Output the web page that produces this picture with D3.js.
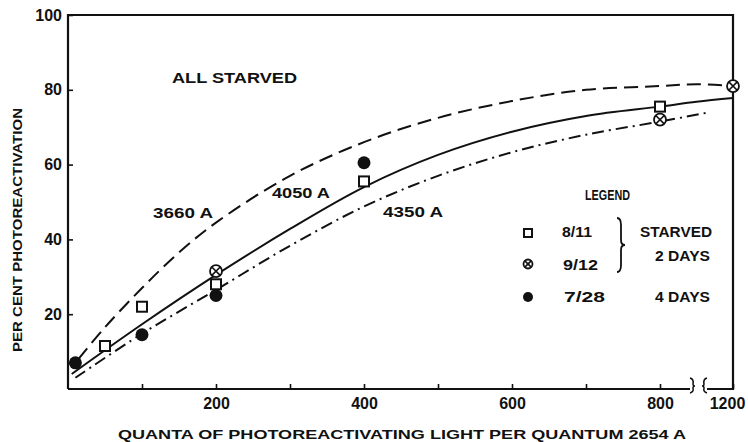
<!DOCTYPE html>
<html>
<head>
<meta charset="utf-8">
<script src="https://cdn.jsdelivr.net/npm/d3@7"></script>
<style>
  body { margin: 0; background: #fff; }
  svg text { font-family: "Liberation Sans", Arial, sans-serif; fill: #111; }
</style>
</head>
<body>
<svg id="chart" width="748" height="442"></svg>
<script>
// x values are quanta per quantum, y values are per cent photoreactivation
const xTicks = [100, 200, 300, 400, 500, 600, 700, 800, 1200]
const xTickLabels = {200: "200", 400: "400", 600: "600", 800: "800", 1200: "1200"}
const yTicks = [20, 40, 60, 80, 100]

// curves, one per wavelength
const curve3660 = [[14, 8], [50, 16.5], [100, 27], [150, 36.5], [200, 44.5], [300, 57], [400, 66], [500, 72.5], [600, 77], [700, 80], [800, 81], [1000, 81.5], [1200, 81]]
const curve4050 = [[5, 4], [100, 17.3], [200, 30.5], [300, 42.8], [400, 54], [500, 62.6], [600, 68.8], [700, 73], [800, 75.5], [1000, 76.8], [1200, 77.8]]
const curve4350 = [[10, 3], [100, 14.8], [200, 26.5], [300, 38.3], [400, 48.8], [500, 57], [600, 63.3], [700, 68], [800, 71.5], [1050, 73.8]]

// experiments
const starved811 = [[50, 11.5], [100, 22], [200, 28], [400, 55.5], [800, 75.5]]
const starved912 = [[200, 31.5], [800, 72], [1200, 81]]
const starved728 = [[10, 7], [100, 14.5], [200, 25], [400, 60.5]]

const svg = d3.select("#chart")

const x = d3.scaleLinear().domain([0, 800, 1200]).range([68, 660, 733])
const y = d3.scaleLinear().domain([0, 100]).range([389, 15])

// frame: left, top, right, bottom with a break before 1200
const frame = svg.append("g").attr("stroke", "#111").attr("stroke-width", 2.2).attr("fill", "none")
frame.append("path").attr("d", `M${x(0)},${y(0)}V${y(100)}H${x(1200)}V${y(0)}H707`)
frame.append("path").attr("d", `M${x(0)},${y(0)}H690`)
frame.append("path").attr("stroke-width", 1.5)
  .attr("d", "M690,378Q694,379 693,384Q693,386 695,386Q693,386 693,388Q694,392 690,393")
frame.append("path").attr("stroke-width", 1.5)
  .attr("d", "M707,378Q703,379 704,384Q704,386 702,386Q704,386 704,388Q703,392 707,393")

const xAxis = d3.axisBottom(x)
  .tickValues(xTicks)
  .tickSizeInner(-5)
  .tickSizeOuter(0)
  .tickPadding(9)
  .tickFormat(d => xTickLabels[d] || "")

const gx = svg.append("g").attr("transform", `translate(0,${y(0)})`).call(xAxis)
gx.select(".domain").remove()
gx.selectAll(".tick line").attr("stroke", "#111").attr("stroke-width", 1.6)
gx.selectAll(".tick text").attr("font-size", 16).attr("font-weight", "bold").attr("fill", "#111")
gx.selectAll(".tick").filter(d => d === 1200).select("text").attr("dx", -6)

const yAxis = d3.axisLeft(y)
  .tickValues(yTicks)
  .tickSizeInner(-5)
  .tickSizeOuter(0)
  .tickPadding(6)

const gy = svg.append("g").attr("transform", `translate(${x(0)},0)`).call(yAxis)
gy.select(".domain").remove()
gy.selectAll(".tick line").attr("stroke", "#111").attr("stroke-width", 1.6)
gy.selectAll(".tick text").attr("font-size", 16).attr("font-weight", "bold").attr("fill", "#111")

// axis titles
svg.append("text")
  .attr("x", 118).attr("y", 439)
  .attr("font-size", 13).attr("font-weight", "bold")
  .attr("textLength", 568).attr("lengthAdjust", "spacingAndGlyphs")
  .text("QUANTA OF PHOTOREACTIVATING LIGHT PER QUANTUM 2654 A")

svg.append("text")
  .attr("transform", "translate(22,352) rotate(-90)")
  .attr("font-size", 13).attr("font-weight", "bold")
  .attr("textLength", 244).attr("lengthAdjust", "spacingAndGlyphs")
  .text("PER CENT PHOTOREACTIVATION")

// curves
const line = d3.line()
  .x(d => x(d[0]))
  .y(d => y(d[1]))
  .curve(d3.curveCatmullRom.alpha(0.5))

const curves = [
  {data: curve3660, dash: "14,7"},
  {data: curve4050, dash: null},
  {data: curve4350, dash: "12,5,2,5"}
]

svg.append("g").selectAll("path")
  .data(curves)
  .join("path")
  .attr("d", d => line(d.data))
  .attr("fill", "none")
  .attr("stroke", "#111")
  .attr("stroke-width", 2)
  .attr("stroke-dasharray", d => d.dash)

// markers
function drawSquare (g, cx, cy, size) {
  g.append("rect")
    .attr("x", cx - size / 2).attr("y", cy - size / 2)
    .attr("width", size).attr("height", size)
    .attr("fill", "#fff").attr("stroke", "#111").attr("stroke-width", 2)
}

function drawCrossCircle (g, cx, cy, r) {
  g.append("circle").attr("cx", cx).attr("cy", cy).attr("r", r)
    .attr("fill", "#fff").attr("stroke", "#111").attr("stroke-width", 1.8)
  const k = r * 0.7
  g.append("path")
    .attr("d", `M${cx - k},${cy - k}L${cx + k},${cy + k}M${cx - k},${cy + k}L${cx + k},${cy - k}`)
    .attr("stroke", "#111").attr("stroke-width", 1.6)
}

function drawDot (g, cx, cy, r) {
  g.append("circle").attr("cx", cx).attr("cy", cy).attr("r", r).attr("fill", "#111")
}

const marks = svg.append("g")
starved811.forEach(d => drawSquare(marks, x(d[0]), y(d[1]), 10))
starved912.forEach(d => drawCrossCircle(marks, x(d[0]), y(d[1]), 6))
starved728.forEach(d => drawDot(marks, x(d[0]), y(d[1]), 6.5))

// annotations
const note = (tx, ty, txt, size, len) => {
  const t = svg.append("text").attr("x", tx).attr("y", ty)
    .attr("font-size", size).attr("font-weight", "bold").text(txt)
  if (len) t.attr("textLength", len).attr("lengthAdjust", "spacingAndGlyphs")
  return t
}

note(172, 83, "ALL STARVED", 14, 125)
note(153, 218, "3660 A", 15, 60)
note(272, 198, "4050 A", 15, 58)
note(383, 217, "4350 A", 15, 60)

// legend
note(585, 200, "LEGEND", 15, 45)
const legend = svg.append("g")
drawSquare(legend, 528, 233, 8)
drawCrossCircle(legend, 528, 264, 4.5)
drawDot(legend, 528, 297, 5)
note(562, 237, "8/11", 14, 30)
note(563, 270, "9/12", 14, 35)
note(564, 302, "7/28", 14, 41)
note(640, 237, "STARVED", 14, 72)
note(655, 261, "2 DAYS", 14, 55)
note(655, 302, "4 DAYS", 14, 55)

legend.append("path")
  .attr("d", "M617,218Q621,218 621,225L621,240Q621,245 625,245Q621,245 621,250L621,265Q621,272 617,272")
  .attr("fill", "none").attr("stroke", "#111").attr("stroke-width", 1.8)
</script>
</body>
</html>
